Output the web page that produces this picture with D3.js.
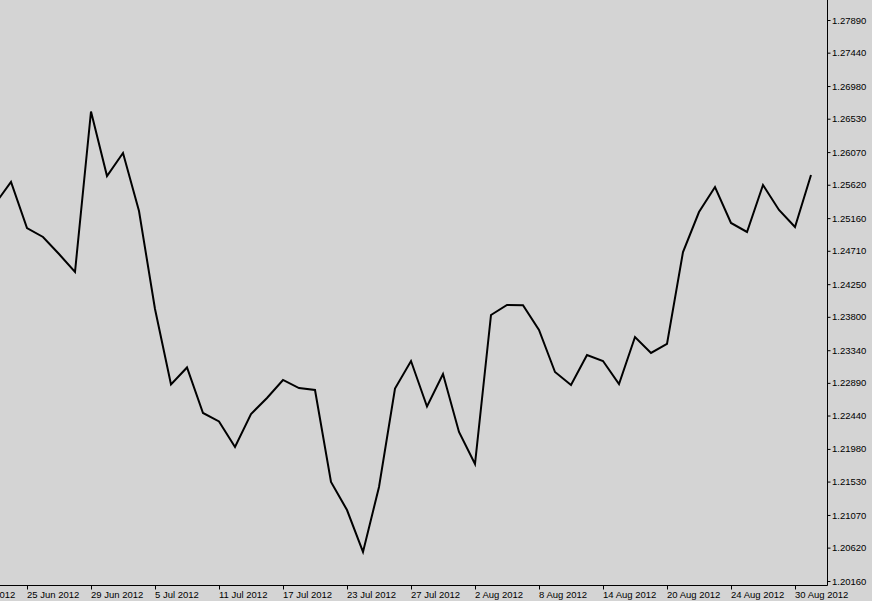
<!DOCTYPE html>
<html>
<head>
<meta charset="utf-8">
<script src="https://cdn.jsdelivr.net/npm/d3@7"></script>
<style>
  html, body { margin: 0; padding: 0; background: #d4d4d4; }
  svg { display: block; }
  text { font-family: "Liberation Sans", Arial, sans-serif; font-size: 9.5px; fill: #000; }
</style>
</head>
<body>
<script>
// Trading days (EURUSD daily closes, approx.)
const dates = [
  "21 Jun","22 Jun","25 Jun","26 Jun","27 Jun","28 Jun","29 Jun",
  "2 Jul","3 Jul","4 Jul","5 Jul","6 Jul","9 Jul","10 Jul","11 Jul","12 Jul","13 Jul",
  "16 Jul","17 Jul","18 Jul","19 Jul","20 Jul","23 Jul","24 Jul","25 Jul","26 Jul","27 Jul",
  "30 Jul","31 Jul","1 Aug","2 Aug","3 Aug","6 Aug","7 Aug","8 Aug","9 Aug","10 Aug",
  "13 Aug","14 Aug","15 Aug","16 Aug","17 Aug","20 Aug","21 Aug","22 Aug","23 Aug","24 Aug",
  "27 Aug","28 Aug","29 Aug","30 Aug","31 Aug"
];
const closes = [
  1.25355,1.25658,1.25024,1.24900,1.24666,1.24418,1.26629,
  1.25740,1.26057,1.25258,1.23908,1.22868,1.23102,1.22475,1.22358,1.22006,1.22461,
  1.22682,1.22930,1.22819,1.22792,1.21524,1.21138,1.20560,1.21455,1.22812,1.23191,
  1.22564,1.23012,1.22213,1.21772,1.23825,1.23963,1.23960,1.23619,1.23040,1.22861,
  1.23274,1.23191,1.22874,1.23522,1.23302,1.23426,1.24693,1.25244,1.25589,1.25093,
  1.24969,1.25617,1.25272,1.25038,1.25754
];
// X tick labels, one every 4 bars; first one (19 Jun) lies 2 bars before the first data bar
const xTickLabels = ["19 Jun 2012","25 Jun 2012","29 Jun 2012","5 Jul 2012","11 Jul 2012",
  "17 Jul 2012","23 Jul 2012","27 Jul 2012","2 Aug 2012","8 Aug 2012","14 Aug 2012",
  "20 Aug 2012","24 Aug 2012","30 Aug 2012"];
const xTickFirstIndex = -2, xTickEvery = 4;
const yTickLabels = ["1.27890","1.27440","1.26980","1.26530","1.26070","1.25620","1.25160",
  "1.24710","1.24250","1.23800","1.23340","1.22890","1.22440","1.21980","1.21530","1.21070",
  "1.20620","1.20160"];

const W = 872, H = 601;
const plotRight = 827.5, plotBottom = 585.5;

const svg = d3.select("body").append("svg").attr("width", W).attr("height", H);
svg.append("rect").attr("width", W).attr("height", H).attr("fill", "#d4d4d4");

const x = d3.scaleLinear().domain([0, dates.length - 1]).range([-5, 811]);
const y = d3.scaleLinear().domain([1.20160, 1.27890]).range([581, 20]);

// clip to plot area
svg.append("clipPath").attr("id", "clip")
  .append("rect").attr("x", 0).attr("y", 0).attr("width", plotRight).attr("height", plotBottom);

const line = d3.line().x((d, i) => x(i)).y(d => y(d));
svg.append("path").datum(closes)
  .attr("clip-path", "url(#clip)")
  .attr("d", line)
  .attr("fill", "none").attr("stroke", "#000").attr("stroke-width", 2)
  .attr("stroke-linejoin", "miter");

// Right price axis
const yAxis = d3.axisRight(y)
  .tickValues(yTickLabels.map(Number))
  .tickFormat((d, i) => yTickLabels[i])
  .tickSize(3).tickSizeOuter(0).tickPadding(1.5);
const gy = svg.append("g").attr("transform", `translate(${plotRight},0)`).call(yAxis);
gy.select(".domain").remove();
gy.selectAll("line").attr("stroke", "#000");
gy.selectAll("text").attr("font-family", "Liberation Sans, Arial, sans-serif").attr("font-size", 9.5).attr("fill", "#000");

// Bottom date axis
const xTickIdx = xTickLabels.map((_, i) => xTickFirstIndex + i * xTickEvery);
const xAxis = d3.axisBottom(x)
  .tickValues(xTickIdx)
  .tickFormat((d, i) => xTickLabels[i])
  .tickSize(4).tickSizeOuter(0).tickPadding(1.5);
const gx = svg.append("g").attr("transform", `translate(0,${plotBottom})`).call(xAxis);
gx.select(".domain").remove();
gx.selectAll("line").attr("stroke", "#000");
gx.selectAll("text").attr("text-anchor", "start").attr("dx", -0.5)
  .attr("font-family", "Liberation Sans, Arial, sans-serif").attr("font-size", 9).attr("fill", "#000");

// Frame lines
svg.append("line").attr("x1", plotRight).attr("x2", plotRight).attr("y1", 0).attr("y2", plotBottom)
  .attr("stroke", "#000").attr("stroke-width", 1);
svg.append("line").attr("x1", 0).attr("x2", plotRight).attr("y1", plotBottom).attr("y2", plotBottom)
  .attr("stroke", "#000").attr("stroke-width", 1);
</script>
</body>
</html>
